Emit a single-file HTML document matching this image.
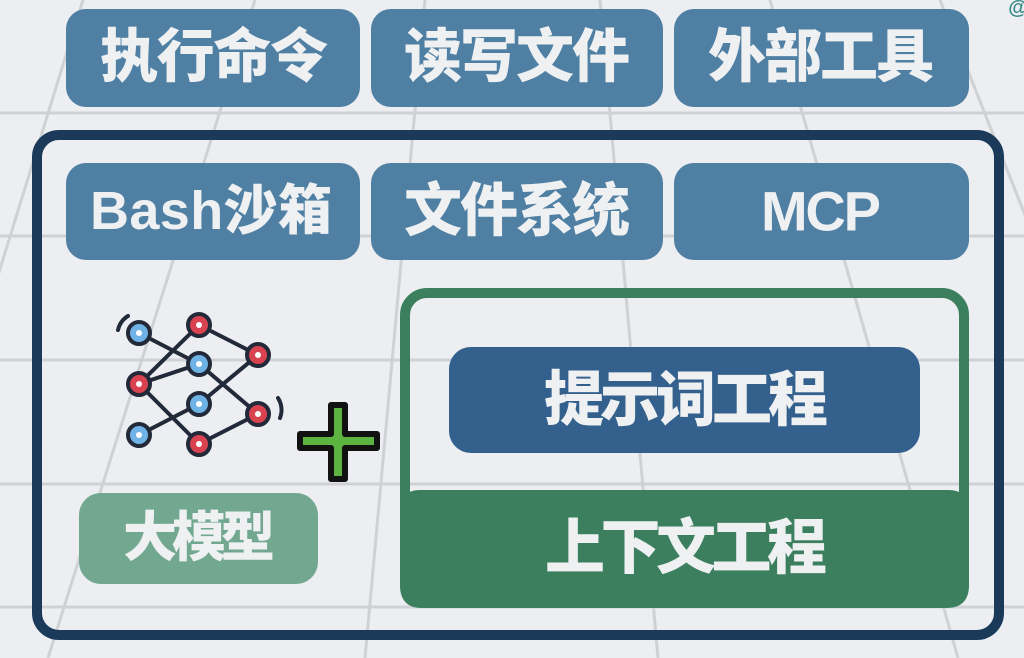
<!DOCTYPE html>
<html><head><meta charset="utf-8"><style>
html,body{margin:0;padding:0;width:1024px;height:658px;overflow:hidden;background:#eceef1}
svg{display:block}
text{font-family:"Liberation Sans","Noto Sans CJK SC",sans-serif;font-weight:900;fill:#eef0f2;text-anchor:middle;dominant-baseline:central}
</style></head><body>
<svg width="1024" height="658" viewBox="0 0 1024 658">
<rect width="1024" height="658" fill="#eceef1"/>
<g stroke="#cfd1d5" stroke-width="3" fill="none">
<line x1="0" y1="113" x2="1024" y2="113"/>
<line x1="0" y1="236" x2="1024" y2="236"/>
<line x1="0" y1="360" x2="1024" y2="360"/>
<line x1="0" y1="484" x2="1024" y2="484"/>
<line x1="0" y1="607" x2="1024" y2="607"/>
<line x1="83" y1="0" x2="-120" y2="658"/>
<line x1="255" y1="0" x2="48" y2="658"/>
<line x1="425" y1="0" x2="365" y2="658"/>
<line x1="600" y1="0" x2="658" y2="658"/>
<line x1="770" y1="0" x2="958" y2="658"/>
<line x1="940" y1="0" x2="1200" y2="658"/>
</g>
<g fill="#4f7fa3">
<rect x="66" y="9" width="294" height="98" rx="20"/>
<rect x="371" y="9" width="292" height="98" rx="20"/>
<rect x="674" y="9" width="295" height="98" rx="20"/>
</g>
<rect x="37" y="135" width="962" height="500" rx="22" fill="none" stroke="#1b3a5a" stroke-width="10"/>
<g fill="#4f7fa3">
<rect x="66" y="163" width="294" height="97" rx="20"/>
<rect x="371" y="163" width="292" height="97" rx="20"/>
<rect x="674" y="163" width="295" height="97" rx="20"/>
</g>
<text x="214" y="57" font-size="58" textLength="228" lengthAdjust="spacing">执行命令</text>
<text x="517" y="57" font-size="58" textLength="226" lengthAdjust="spacing">读写文件</text>
<text x="821" y="57" font-size="58" textLength="226" lengthAdjust="spacing">外部工具</text>
<text x="211" y="211" font-size="54" textLength="242" lengthAdjust="spacing">Bash沙箱</text>
<text x="517" y="211" font-size="58" textLength="226" lengthAdjust="spacing">文件系统</text>
<text x="821" y="211" font-size="56" textLength="120" lengthAdjust="spacing">MCP</text>
<rect x="405" y="293" width="559" height="310" rx="22" fill="none" stroke="#3b7f5f" stroke-width="10"/>
<path d="M400 510 Q400 490 420 490 L948 490 Q969 490 969 510 L969 585 Q969 608 946 608 L422 608 Q400 608 400 585 Z" fill="#3b7f5f"/>
<rect x="449" y="347" width="471" height="106" rx="22" fill="#33608d"/>
<text x="686" y="400" font-size="60" textLength="284" lengthAdjust="spacing">提示词工程</text>
<text x="686" y="548" font-size="60" textLength="282" lengthAdjust="spacing">上下文工程</text>
<rect x="79" y="493" width="239" height="91" rx="22" fill="#72a890"/>
<text x="199" y="538" font-size="54" textLength="152" lengthAdjust="spacing">大模型</text>
<g stroke="#222a3a" stroke-width="4" fill="none" stroke-linecap="round">
<line x1="139" y1="333" x2="199" y2="364"/>
<line x1="139" y1="384" x2="199" y2="325"/>
<line x1="139" y1="384" x2="199" y2="364"/>
<line x1="139" y1="384" x2="199" y2="444"/>
<line x1="139" y1="435" x2="199" y2="404"/>
<line x1="199" y1="325" x2="258" y2="355"/>
<line x1="199" y1="364" x2="258" y2="414"/>
<line x1="199" y1="404" x2="258" y2="355"/>
<line x1="199" y1="444" x2="258" y2="414"/>
<path d="M118 330 A22 22 0 0 1 128 316"/>
<path d="M278 398 A22 22 0 0 1 280 418"/>
</g>
<g stroke="#222a3a" stroke-width="4">
<circle cx="139" cy="333" r="11" fill="#6fb3e6"/>
<circle cx="199" cy="325" r="11" fill="#d9434f"/>
<circle cx="199" cy="364" r="11" fill="#6fb3e6"/>
<circle cx="258" cy="355" r="11" fill="#d9434f"/>
<circle cx="139" cy="384" r="11" fill="#d9434f"/>
<circle cx="199" cy="404" r="11" fill="#6fb3e6"/>
<circle cx="258" cy="414" r="11" fill="#d9434f"/>
<circle cx="139" cy="435" r="11" fill="#6fb3e6"/>
<circle cx="199" cy="444" r="11" fill="#d9434f"/>
</g>
<g fill="#fff">
<circle cx="139" cy="333" r="3"/><circle cx="199" cy="325" r="3"/><circle cx="199" cy="364" r="3"/>
<circle cx="258" cy="355" r="3"/><circle cx="139" cy="384" r="3"/><circle cx="199" cy="404" r="3"/>
<circle cx="258" cy="414" r="3"/><circle cx="139" cy="435" r="3"/><circle cx="199" cy="444" r="3"/>
</g>
<path d="M331 405 L345 405 L345 434 L377 434 L377 448 L345 448 L345 479 L331 479 L331 448 L300 448 L300 434 L331 434 Z" fill="#5cb33f" stroke="#111" stroke-width="6" stroke-linejoin="round"/>
<text x="1018" y="8" font-size="20" style="fill:#3a8a8a">@</text>
</svg>
</body></html>
